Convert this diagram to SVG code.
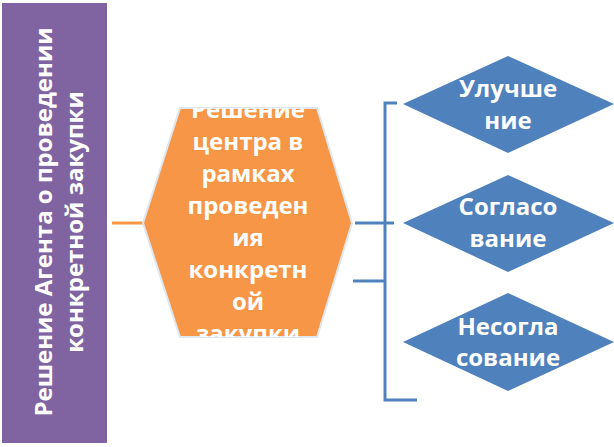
<svg xmlns="http://www.w3.org/2000/svg" width="614" height="447" viewBox="0 0 614 447">
<style>
text{font-family:"Open Sans","Liberation Sans",sans-serif;font-weight:700;font-size:24px;fill:#fff;text-anchor:middle}
.blue{fill:#4F81BD}
.conn{stroke:#4F81BD;stroke-width:3;fill:none}
</style>
<defs>
<clipPath id="hexclip"><polygon points="143,223 180,108 317,108 352,223 317,337 180,337"/></clipPath>
</defs>
<rect width="614" height="447" fill="#fff"/>
<g id="connectors">
<line x1="112" y1="223" x2="143" y2="223" stroke="#F79646" stroke-width="3"/>
<line class="conn" x1="355" y1="223" x2="394" y2="223"/>
<line class="conn" x1="353" y1="281" x2="385" y2="281"/>
<polyline class="conn" points="397,103 385,103 385,400 417,400"/>
</g>
<g id="agent">
<rect x="2" y="3" width="105" height="440" fill="#8064A2"/>
<text transform="translate(0,222) rotate(-90)"><tspan x="0" y="52">Решение Агента о проведении</tspan><tspan x="0" y="83">конкретной закупки</tspan></text>
</g>
<g id="center">
<polygon points="143,223 180,108 317,108 352,223 317,337 180,337" fill="#F79646" stroke="#dfe6ee" stroke-width="2"/>
<g clip-path="url(#hexclip)">
<text x="248" y="118">Решение</text>
<text x="248" y="150">центра в</text>
<text x="248" y="182">рамках</text>
<text x="248" y="214">проведен</text>
<text x="248" y="246">ия</text>
<text x="248" y="278">конкретн</text>
<text x="248" y="310">ой</text>
<text x="248" y="342">закупки</text>
</g>
</g>
<g id="improve">
<polygon class="blue" points="403,104 508,56 614,104 508,153"/>
<text x="508" y="97">Улучше</text>
<text x="508" y="129">ние</text>
</g>
<g id="agree">
<polygon class="blue" points="403,223 508,175 614,223 508,272"/>
<text x="508" y="215">Согласо</text>
<text x="508" y="247">вание</text>
</g>
<g id="disagree">
<polygon class="blue" points="403,342 508,293 614,342 508,391"/>
<text x="508" y="335">Несогла</text>
<text x="508" y="366">сование</text>
</g>
</svg>
